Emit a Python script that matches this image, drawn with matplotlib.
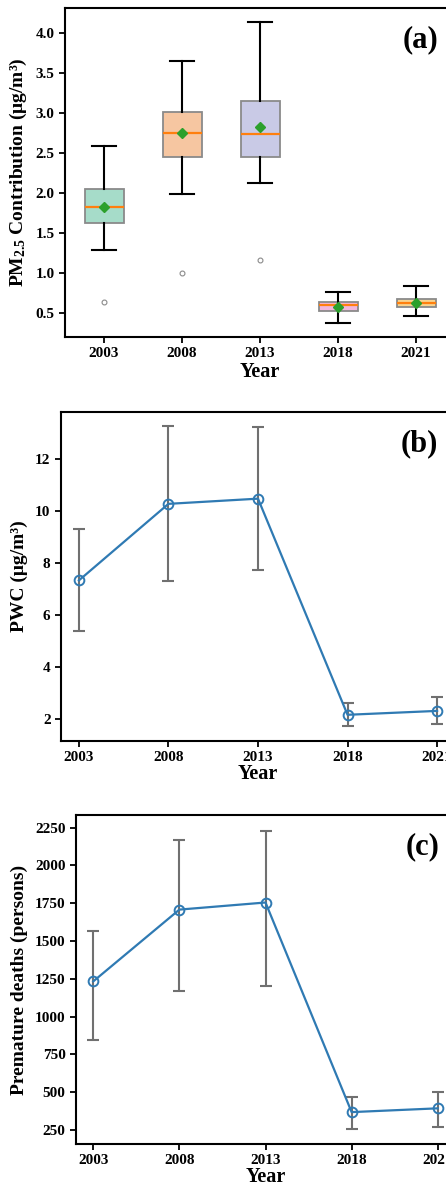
import matplotlib
matplotlib.use('Agg')
import matplotlib.pyplot as plt
import numpy as np

plt.rcParams['font.family'] = 'Liberation Serif'
plt.rcParams['font.weight'] = 'bold'
plt.rcParams['mathtext.fontset'] = 'custom'
plt.rcParams['mathtext.rm'] = 'Liberation Serif:bold'
plt.rcParams['mathtext.bf'] = 'Liberation Serif:bold'
plt.rcParams['mathtext.default'] = 'bf'

# Data
years = ['2003', '2008', '2013', '2018', '2021']

# (a) box statistics of PM2.5 contribution
box_whislo = [1.29, 1.99, 2.13, 0.38, 0.46]
box_q1 = [1.63, 2.45, 2.45, 0.52, 0.57]
box_med = [1.82, 2.75, 2.73, 0.60, 0.62]
box_q3 = [2.05, 3.01, 3.15, 0.64, 0.68]
box_whishi = [2.58, 3.65, 4.13, 0.76, 0.84]
box_mean = [1.82, 2.75, 2.82, 0.58, 0.62]
box_fliers = [[0.64], [1.00], [1.16], [], []]
box_colors = ['#a6dcc9', '#f6c6a1', '#c9cae6', '#f2b6dc', '#f8d48f']

# (b) population weighted concentration
pwc_mean = [7.33, 10.28, 10.48, 2.15, 2.30]
pwc_low = [5.37, 7.30, 7.72, 1.72, 1.78]
pwc_high = [9.30, 13.28, 13.25, 2.60, 2.82]

# (c) premature deaths
deaths_mean = [1233, 1708, 1755, 368, 393]
deaths_low = [843, 1168, 1200, 253, 268]
deaths_high = [1568, 2170, 2230, 470, 500]

W, H = 446, 1189
fig = plt.figure(figsize=(W / 100, H / 100), dpi=100)


def px_axes(left, top, right, bottom):
    return fig.add_axes([left / W, 1 - bottom / H, (right - left) / W, (bottom - top) / H])


def style_axes(ax):
    for s in ax.spines.values():
        s.set_linewidth(1.5)
    ax.tick_params(axis='both', width=1.3, length=4, labelsize=11, direction='out')
    for lab in ax.get_xticklabels() + ax.get_yticklabels():
        lab.set_fontweight('bold')


# ---- panel (a)
ax1 = px_axes(65, 8, 455, 337)
stats = []
for i in range(len(years)):
    stats.append(dict(whislo=box_whislo[i], q1=box_q1[i], med=box_med[i], q3=box_q3[i],
                      whishi=box_whishi[i], mean=box_mean[i], fliers=box_fliers[i]))
bp = ax1.bxp(stats, positions=np.arange(1, 6), widths=0.5, capwidths=0.32,
             showmeans=True, patch_artist=True,
             boxprops=dict(edgecolor='#8a8a8a', linewidth=1.3),
             medianprops=dict(color='#ff7f0e', linewidth=1.6),
             whiskerprops=dict(color='black', linewidth=1.5),
             capprops=dict(color='black', linewidth=1.5),
             meanprops=dict(marker='D', markerfacecolor='#2ca02c', markeredgecolor='#2ca02c', markersize=5),
             flierprops=dict(marker='o', markerfacecolor='none', markeredgecolor='#8a8a8a',
                             markersize=3.5, markeredgewidth=0.8))
for patch, c in zip(bp['boxes'], box_colors):
    patch.set_facecolor(c)
ax1.set_xlim(0.5, 5.5)
ax1.set_ylim(0.2, 4.31)
ax1.set_xticks(np.arange(1, 6))
ax1.set_xticklabels(years)
ax1.set_yticks([0.5, 1.0, 1.5, 2.0, 2.5, 3.0, 3.5, 4.0])
ax1.set_xlabel('Year', fontsize=14.5, fontweight='bold', labelpad=1)
ax1.set_ylabel('PM$_{2.5}$ Contribution (μg/m³)', fontsize=14, fontweight='bold', labelpad=5)
ax1.text(0.958, 0.905, '(a)', transform=ax1.transAxes, ha='right', va='center',
         fontsize=22, fontweight='bold')
style_axes(ax1)


def line_panel(ax, mean, low, high, ylim, yticks, ylabel, tag):
    x = np.arange(len(years))
    mean = np.array(mean)
    yerr = [mean - np.array(low), np.array(high) - mean]
    ax.errorbar(x, mean, yerr=yerr, fmt='none', ecolor='#707070', elinewidth=1.5,
                capsize=4, capthick=1.5, zorder=1)
    ax.plot(x, mean, color='#2f7ab3', linewidth=1.6, marker='o', markersize=7,
            markerfacecolor='none', markeredgewidth=1.4, zorder=2)
    ax.set_xlim(-0.2, 4.2)
    ax.set_ylim(*ylim)
    ax.set_xticks(x)
    ax.set_xticklabels(years)
    ax.set_yticks(yticks)
    ax.set_xlabel('Year', fontsize=14.5, fontweight='bold', labelpad=0)
    ax.set_ylabel(ylabel, fontsize=14, fontweight='bold', labelpad=5)
    ax.text(0.958, 0.905, tag, transform=ax.transAxes, ha='right', va='center',
            fontsize=22, fontweight='bold')
    style_axes(ax)


# ---- panel (b)
ax2 = px_axes(61, 412, 455, 741)
line_panel(ax2, pwc_mean, pwc_low, pwc_high, (1.14, 13.82), [2, 4, 6, 8, 10, 12],
           'PWC (μg/m³)', '(b)')

# ---- panel (c)
ax3 = px_axes(76, 815, 455, 1144)
line_panel(ax3, deaths_mean, deaths_low, deaths_high, (157, 2334),
           [250, 500, 750, 1000, 1250, 1500, 1750, 2000, 2250],
           'Premature deaths (persons)', '(c)')

fig.savefig('out.png', dpi=100)
